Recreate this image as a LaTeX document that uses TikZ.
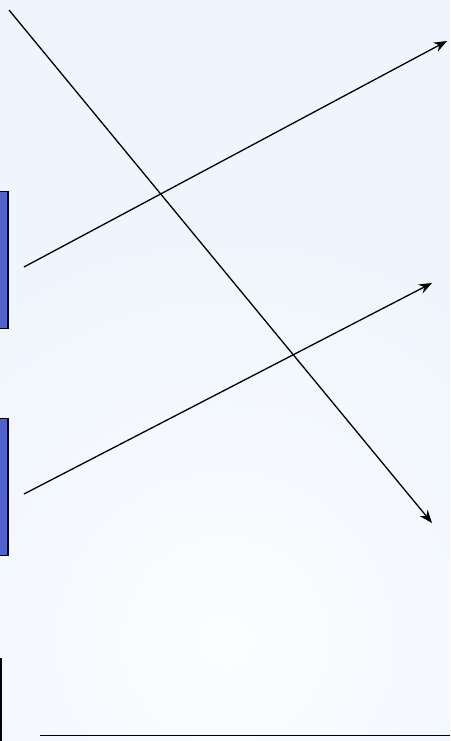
\documentclass[tikz,border=0pt]{standalone}
\usetikzlibrary{arrows.meta}
\definecolor{bgout}{RGB}{238,245,252}
\definecolor{bgin}{RGB}{252,253,255}
\definecolor{boxblue}{RGB}{82,98,204}
\begin{document}
\begin{tikzpicture}[x=1pt,y=-1pt,
  conn/.style={line width=1.3pt,-{Stealth[length=13pt,width=10pt]}},
  bluebox/.style={draw=black,line width=1.2pt,fill=boxblue,inner sep=0pt,minimum width=10pt,minimum height=137pt},
  plainline/.style={line width=1.3pt}]
\useasboundingbox (0,0) rectangle (450,741);
\fill[bgout] (0,0) rectangle (450,741);
\begin{scope}
\clip (0,0) rectangle (450,741);
\shade[inner color=bgin,outer color=bgout] (225,640) circle (420);
\end{scope}
\node[bluebox,anchor=north east] (box1) at (8.5,191) {};
\node[bluebox,anchor=north east] (box2) at (8.5,418) {};
\coordinate (s1) at (9,10);
\coordinate (e1) at (432,523);
\coordinate (s2) at (24,267);
\coordinate (e2) at (447,41);
\coordinate (s3) at (24,494);
\coordinate (e3) at (432,283);
\coordinate (v1) at (1,658);
\coordinate (v2) at (1,741);
\coordinate (h1) at (40,735.5);
\coordinate (h2) at (450,735.5);
\draw[conn] (s1) -- (e1);
\draw[conn] (s2) -- (e2);
\draw[conn] (s3) -- (e3);
\draw[plainline] (v1) -- (v2);
\draw[plainline] (h1) -- (h2);
\end{tikzpicture}
\end{document}
